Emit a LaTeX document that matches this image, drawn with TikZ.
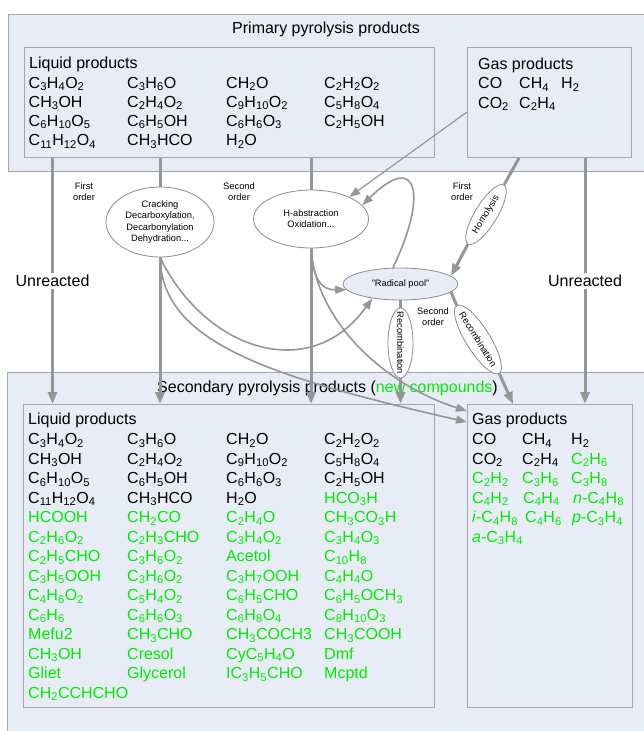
\documentclass[tikz,border=0pt]{standalone}
\usepackage{fontspec}
\setmainfont{Liberation Sans}
\usetikzlibrary{shapes.geometric,arrows.meta,calc}
\definecolor{boxfill}{RGB}{232,236,246}
\definecolor{boxline}{RGB}{165,166,172}
\definecolor{arr}{RGB}{150,150,150}
\definecolor{eline}{RGB}{140,140,140}
\definecolor{newc}{RGB}{0,235,0}
\newcommand\sbs[1]{\textsubscript{#1}}
\def\rs{19.5}
\newcommand\colitems[5]{\foreach \itm [count=\i from 0] in {#5} {\node[item,text=#4] (#1\i) at (#2,#3+\rs*\i) {\itm};}}
\begin{document}
\begin{tikzpicture}[x=1pt,y=-1pt,
  box/.style={draw=boxline, fill=boxfill, line width=1pt, inner sep=0, anchor=north west},
  item/.style={anchor=base west, inner sep=0, font=\fontsize{16}{19}\selectfont},
  big/.style={font=\fontsize{16}{19}\selectfont, inner sep=0},
  small/.style={font=\fontsize{9.3}{11.3}\selectfont, align=center, inner sep=0},
  proc/.style={ellipse, draw=eline, fill=white, line width=0.8pt, inner sep=0, small},
  thk/.style={draw=arr, line width=3pt},
  crv/.style={draw=arr, line width=1.6pt},
  thn/.style={draw=arr, line width=1.2pt},
  tip/.style={-{Triangle[length=12pt,width=9pt]}},
  ctip/.style={-{Triangle[length=11pt,width=8pt]}}]
\useasboundingbox (0,0) rectangle (644,731);
\clip (0,0) rectangle (644,731);
\fill[white] (0,0) rectangle (644,731);
% ---------- primary
\node[box, minimum width=650, minimum height=157] (po) at (8,14) {};
\node[big, anchor=base] (ptitle) at (326,33.5) {Primary pyrolysis products};
\node[box, minimum width=410.5, minimum height=110] (tl) at (23.5,47) {};
\node[box, minimum width=164, minimum height=110] (tg) at (467,47) {};
\node[item] (tlh) at (29,68.5) {Liquid products};
\def\rs{19.2}
\colitems{ta}{28.5}{88}{black}{C\sbs{3}H\sbs{4}O\sbs{2}, CH\sbs{3}OH, C\sbs{6}H\sbs{10}O\sbs{5}, C\sbs{11}H\sbs{12}O\sbs{4}}
\colitems{tb}{127}{88}{black}{C\sbs{3}H\sbs{6}O, C\sbs{2}H\sbs{4}O\sbs{2}, C\sbs{6}H\sbs{5}OH, CH\sbs{3}HCO}
\colitems{tc}{226}{88}{black}{CH\sbs{2}O, C\sbs{9}H\sbs{10}O\sbs{2}, C\sbs{6}H\sbs{6}O\sbs{3}, H\sbs{2}O}
\colitems{td}{324}{88}{black}{C\sbs{2}H\sbs{2}O\sbs{2}, C\sbs{5}H\sbs{8}O\sbs{4}, C\sbs{2}H\sbs{5}OH}
\node[item] (tgh) at (478,69) {Gas products};
\node[item] (tg1) at (478,88.5) {CO};
\node[item] (tg2) at (519,88.5) {CH\sbs{4}};
\node[item] (tg3) at (561,88.5) {H\sbs{2}};
\node[item] (tg4) at (478,108) {CO\sbs{2}};
\node[item] (tg5) at (519,108) {C\sbs{2}H\sbs{4}};
% ---------- secondary
\node[box, minimum width=650, minimum height=370] (so) at (7,372) {};
\node[big, anchor=base] (stitle) at (327.5,392) {Secondary pyrolysis products (\textcolor{newc}{new compounds})};
\node[box, minimum width=411, minimum height=303] (sl) at (23,404) {};
\node[box, minimum width=165, minimum height=303] (sg) at (467,404) {};
\node[item] (slh) at (28,424) {Liquid products};
\def\rs{19.5}
\colitems{sa}{28}{444.5}{black}{C\sbs{3}H\sbs{4}O\sbs{2}, CH\sbs{3}OH, C\sbs{6}H\sbs{10}O\sbs{5}, C\sbs{11}H\sbs{12}O\sbs{4}}
\colitems{sA}{28}{522.5}{newc}{HCOOH, C\sbs{2}H\sbs{6}O\sbs{2}, C\sbs{2}H\sbs{5}CHO, C\sbs{3}H\sbs{5}OOH, C\sbs{4}H\sbs{6}O\sbs{2}, C\sbs{6}H\sbs{6}, Mefu2, CH\sbs{3}OH, Gliet, CH\sbs{2}CCHCHO}
\colitems{sb}{127}{444.5}{black}{C\sbs{3}H\sbs{6}O, C\sbs{2}H\sbs{4}O\sbs{2}, C\sbs{6}H\sbs{5}OH, CH\sbs{3}HCO}
\colitems{sB}{127}{522.5}{newc}{CH\sbs{2}CO, C\sbs{2}H\sbs{3}CHO, C\sbs{3}H\sbs{6}O\sbs{2}, C\sbs{3}H\sbs{6}O\sbs{2}, C\sbs{5}H\sbs{4}O\sbs{2}, C\sbs{6}H\sbs{6}O\sbs{3}, CH\sbs{3}CHO, Cresol, Glycerol}
\colitems{sc}{226}{444.5}{black}{CH\sbs{2}O, C\sbs{9}H\sbs{10}O\sbs{2}, C\sbs{6}H\sbs{6}O\sbs{3}, H\sbs{2}O}
\colitems{sC}{226}{522.5}{newc}{C\sbs{2}H\sbs{4}O, C\sbs{3}H\sbs{4}O\sbs{2}, Acetol, C\sbs{3}H\sbs{7}OOH, C\sbs{6}H\sbs{5}CHO, C\sbs{6}H\sbs{8}O\sbs{4}, CH\sbs{3}COCH3, CyC\sbs{5}H\sbs{4}O, IC\sbs{3}H\sbs{5}CHO}
\colitems{sd}{324}{444.5}{black}{C\sbs{2}H\sbs{2}O\sbs{2}, C\sbs{5}H\sbs{8}O\sbs{4}, C\sbs{2}H\sbs{5}OH}
\colitems{sD}{324}{503}{newc}{HCO\sbs{3}H, CH\sbs{3}CO\sbs{3}H, C\sbs{3}H\sbs{4}O\sbs{3}, C\sbs{10}H\sbs{8}, C\sbs{4}H\sbs{4}O, C\sbs{6}H\sbs{5}OCH\sbs{3}, C\sbs{8}H\sbs{10}O\sbs{3}, CH\sbs{3}COOH, Dmf, Mcptd}
\node[item] (sgh) at (472,424) {Gas products};
\node[item] (g1) at (472,444.5) {CO};
\node[item] (g2) at (522,444.5) {CH\sbs{4}};
\node[item] (g3) at (571,444.5) {H\sbs{2}};
\node[item] (g4) at (472,464) {CO\sbs{2}};
\node[item] (g5) at (522,464) {C\sbs{2}H\sbs{4}};
\node[item,text=newc] (g6) at (571,464) {C\sbs{2}H\sbs{6}};
\node[item,text=newc] (g7) at (472,483.5) {C\sbs{2}H\sbs{2}};
\node[item,text=newc] (g8) at (522,483.5) {C\sbs{3}H\sbs{6}};
\node[item,text=newc] (g9) at (571,483.5) {C\sbs{3}H\sbs{8}};
\node[item,text=newc] (g10) at (472,503) {C\sbs{4}H\sbs{2}};
\node[item,text=newc] (g11) at (523,503) {C\sbs{4}H\sbs{4}};
\node[item,text=newc] (g12) at (573,503) {\textit{n}-C\sbs{4}H\sbs{8}};
\node[item,text=newc] (g13) at (472,522.5) {\textit{i}-C\sbs{4}H\sbs{8}};
\node[item,text=newc] (g14) at (525,522.5) {C\sbs{4}H\sbs{6}};
\node[item,text=newc] (g15) at (572,522.5) {\textit{p}-C\sbs{3}H\sbs{4}};
\node[item,text=newc] (g16) at (472,542) {\textit{a}-C\sbs{3}H\sbs{4}};
% ---------- middle
\node[proc, minimum width=108, minimum height=70] (e1) at (160,222) {Cracking\\Decarboxylation,\\Decarbonylation\\Dehydration...};
\node[proc, minimum width=115, minimum height=58] (e2) at (311,219) {H-abstraction\\Oxidation...};
\node[proc, fill=boxfill, minimum width=115, minimum height=32] (rp) at (400.5,284) {"Radical pool"};
\node[proc, rotate=58.6, minimum width=69, minimum height=22] (hom) at (486,214.5) {Homolysis};
\node[proc, rotate=-90, inner xsep=-12pt, minimum width=70, minimum height=25] (rc1) at (400.5,343) {Recombination};
\node[proc, rotate=-58, inner xsep=-12pt, minimum width=80, minimum height=24] (rc2) at (478,339.5) {Recombination};
\node[small] (fo1) at (84,191.5) {First\\order};
\node[small] (so1) at (239,191.5) {Second\\order};
\node[small] (fo2) at (462,191.5) {First\\order};
\node[small] (so2) at (433,316.5) {Second\\order};
\node[big, inner sep=1.5pt] (ul) at (52.5,281) {Unreacted};
\node[big, inner sep=1.5pt] (ur) at (585,281) {Unreacted};
\coordinate (hg) at ($(tg.south west)+(52,0)$);
\coordinate (gl) at ($(tg.north west)+(0,65)$);
\coordinate (sgA) at ($(sg.north west)+(0,7)$);
\coordinate (sgB) at ($(sg.north west)+(0,18)$);
\coordinate (sgR) at ($(sg.north west)+(46,0)$);
% ---------- connectors
\draw[thk] (tl.south -| ul.north) -- (ul.north);
\draw[thk,tip] (ul.south) -- (ul.south |- sl.north);
\draw[thk] (tg.south -| ur.north) -- (ur.north);
\draw[thk,tip] (ur.south) -- (ur.south |- sg.north);
\draw[thk] (tl.south -| e1.north) -- (e1.north);
\draw[thk,tip] (e1.south) -- (e1.south |- sl.north);
\draw[thk] (tl.south -| e2.north) -- (e2.north);
\draw[thk,tip] (e2.south) -- (e2.south |- sl.north);
\draw[thk] (hg) -- (hom.east);
\draw[thk,tip] (hom.west) -- (rp.9);
\draw[thk] (rp.south) -- (rc1.west);
\draw[thk,tip] (rc1.east) -- (rc1.east |- sl.north);
\draw[thk] (rp.-9) -- (rc2.west);
\draw[thk,tip] (rc2.east) -- (sgR);
\draw[thn,ctip] (gl) -- (e2.30);
\draw[crv,ctip] (rp.115) .. controls (428,195) and (418,150) .. (e2.15);
\draw[crv,ctip] (e2.south) .. controls (313,282) and (323,290) .. (rp.186);
\draw[crv,ctip] (e2.south) .. controls (316,322) and (385,385) .. (sgA);
\draw[crv,ctip] (e1.south) .. controls (205,350) and (310,385) .. (rp.207);
\draw[crv,ctip] (e1.south) .. controls (162,340) and (260,375) .. (sgB);
\end{tikzpicture}
\end{document}
